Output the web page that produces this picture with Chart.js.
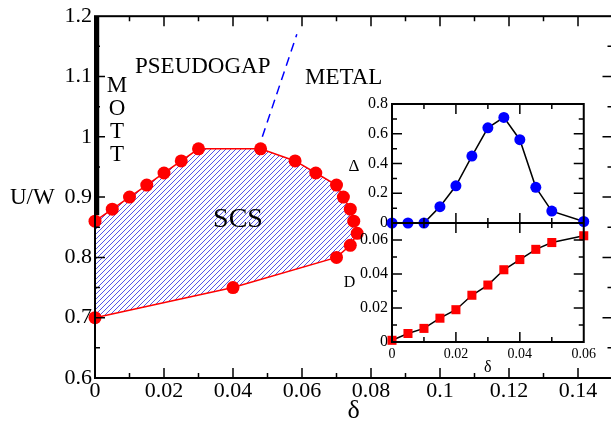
<!DOCTYPE html>
<html><head><meta charset="utf-8">
<script src="https://cdn.jsdelivr.net/npm/chart.js@4/dist/chart.umd.min.js"></script>
<style>
html,body{margin:0;padding:0;background:#fff;width:611px;height:424px;overflow:hidden;}
#wrap{position:relative;width:611px;height:424px;overflow:hidden;background:#fff;}
#mainBox{position:absolute;left:0;top:0;width:640px;height:424px;}
#insetBox{position:absolute;left:330px;top:90px;width:270px;height:300px;}
</style></head><body>
<div id="wrap">
  <div id="mainBox"><canvas id="main"></canvas></div>
  <div id="insetBox"><canvas id="inset"></canvas></div>
</div>
<script>
// ---------- DATA ----------
// SCS phase boundary (doping delta, U/W), traced around the region
const scsDelta = [0, 0.04, 0.07, 0.074, 0.076, 0.075, 0.074, 0.072, 0.07, 0.064, 0.058, 0.048, 0.03, 0.025, 0.02, 0.015, 0.01, 0.005, 0];
const scsU     = [0.70, 0.75, 0.80, 0.82, 0.84, 0.86, 0.88, 0.90, 0.92, 0.94, 0.96, 0.98, 0.98, 0.96, 0.94, 0.92, 0.90, 0.88, 0.86];
// Mott insulator segment at delta = 0
const mottDelta = [0.0005, 0.0005];
const mottU     = [0.87, 1.2];
// Pseudogap / metal crossover (dashed)
const pgDelta = [0.0485, 0.0585];
const pgU     = [1.0, 1.17];
// Inset
const insetDelta = [0, 0.005, 0.01, 0.015, 0.02, 0.025, 0.03, 0.035, 0.04, 0.045, 0.05, 0.06];
const gapValues  = [0, 0, 0, 0.11, 0.25, 0.45, 0.64, 0.71, 0.56, 0.24, 0.08, 0.01];
const dValues    = [0.001, 0.005, 0.008, 0.014, 0.019, 0.0275, 0.0335, 0.0425, 0.0485, 0.0545, 0.0585, 0.0625];
// Tick labels
const mainXTicks  = [0, 0.02, 0.04, 0.06, 0.08, 0.1, 0.12, 0.14];
const mainYTicks  = [0.6, 0.7, 0.8, 0.9, 1.0, 1.1, 1.2];
const insetXTicks = [0, 0.02, 0.04, 0.06];
const gapTicks    = [0, 0.2, 0.4, 0.6, 0.8];
const dTicks      = [0, 0.02, 0.04, 0.06];

// ---------- HELPERS ----------
const SERIF = "'Liberation Serif', 'Times New Roman', serif";
Chart.defaults.font.family = SERIF;
Chart.defaults.color = '#000';
const fmt = v => String(parseFloat(Number(v).toFixed(3)));
const pts = (xs, ys) => xs.map((x, i) => ({x: x, y: ys[i]}));
function range(min, max, step) {
  const out = []; const n = Math.round((max - min) / step);
  for (let i = 0; i <= n; i++) out.push({v: min + i * step, major: i % 2 === 0});
  return out;
}
function setTicks(arr) { return s => { s.ticks = arr.map(v => ({value: v})); }; }

function hatchPattern() {
  const t = document.createElement('canvas');
  const n = 5; t.width = n; t.height = n;
  const c = t.getContext('2d');
  c.strokeStyle = 'rgb(85,85,232)';
  c.lineWidth = 1;
  c.beginPath();
  c.moveTo(-1, n + 1); c.lineTo(n + 1, -1);
  c.moveTo(-1, 1); c.lineTo(1, -1);
  c.moveTo(n - 1, n + 1); c.lineTo(n + 1, n - 1);
  c.stroke();
  return c.createPattern(t, 'repeat');
}

function drawXTicks(ctx, scale, list, top, bottom, left, right) {
  list.forEach(t => {
    const px = scale.getPixelForValue(t.v);
    if (px < left + 0.5 || px > right - 0.5) return;
    const L = t.major ? 10 : 5;
    ctx.beginPath();
    ctx.moveTo(px, bottom); ctx.lineTo(px, bottom - L);
    ctx.moveTo(px, top); ctx.lineTo(px, top + L);
    ctx.stroke();
  });
}
function drawYTicks(ctx, scale, list, left, right, top, bottom) {
  list.forEach(t => {
    const py = scale.getPixelForValue(t.v);
    if (py < top + 0.5 || py > bottom - 0.5) return;
    const L = t.major ? 10 : 5;
    ctx.beginPath();
    ctx.moveTo(left, py); ctx.lineTo(left + L, py);
    ctx.moveTo(right, py); ctx.lineTo(right - L, py);
    ctx.stroke();
  });
}

// ---------- MAIN CHART ----------
const mainFrame = {
  id: 'mainFrame',
  afterDatasetsDraw(chart) {
    const {ctx, chartArea: a, scales} = chart;
    ctx.save();
    ctx.strokeStyle = '#000';
    ctx.lineWidth = 1.5;
    drawXTicks(ctx, scales.x, range(0, 0.15, 0.01), a.top, a.bottom, a.left, a.right);
    drawYTicks(ctx, scales.y, range(0.6, 1.2, 0.05), a.left, a.right, a.top, a.bottom);
    ctx.lineWidth = 2;
    ctx.strokeRect(a.left, a.top, a.right - a.left, a.bottom - a.top);
    // annotations
    ctx.fillStyle = '#000';
    ctx.textBaseline = 'alphabetic';
    ctx.textAlign = 'left';
    ctx.font = '23px ' + SERIF;
    ctx.fillText('PSEUDOGAP', 135, 73);
    ctx.fillText('METAL', 305, 84);
    ctx.fillText('U/W', 10, 204);
    ctx.textAlign = 'center';
    ['M', 'O', 'T', 'T'].forEach((ch, i) => ctx.fillText(ch, 117, [92, 115, 138, 161][i]));
    ctx.font = '28px ' + SERIF;
    ctx.fillText('SCS', 238, 227);
    ctx.font = '26px ' + SERIF;
    ctx.fillText('δ', (a.left + a.right) / 2, 418);
    ctx.restore();
  }
};

new Chart(document.getElementById('main'), {
  type: 'line',
  data: {
    datasets: [
      {
        data: pts(scsDelta, scsU),
        borderColor: '#ff0000', borderWidth: 1.5,
        backgroundColor: hatchPattern(), fill: 'shape',
        pointRadius: 6.5, pointHoverRadius: 6.5,
        pointBackgroundColor: '#ff0000', pointBorderColor: '#ff0000', pointBorderWidth: 0,
        tension: 0, clip: false
      },
      {
        data: pts(mottDelta, mottU),
        borderColor: '#000', borderWidth: 5, pointRadius: 0, fill: false, clip: false
      },
      {
        data: pts(pgDelta, pgU),
        borderColor: '#0000ff', borderWidth: 1.5, borderDash: [9, 6], pointRadius: 0, fill: false
      }
    ]
  },
  options: {
    responsive: true, maintainAspectRatio: false, animation: false, events: [],
    layout: {padding: {left: 0, right: 27.5, top: 16, bottom: 0}},
    plugins: {legend: {display: false}, tooltip: {enabled: false}},
    scales: {
      x: {
        type: 'linear', min: 0, max: 0.15,
        grid: {display: false, drawTicks: false}, border: {display: false},
        afterBuildTicks: setTicks(mainXTicks),
        afterFit: s => { s.height = 46; },
        ticks: {autoSkip: false, maxRotation: 0, padding: 0, font: {size: 22}, color: '#000', callback: v => fmt(v)}
      },
      y: {
        type: 'linear', min: 0.6, max: 1.2,
        grid: {display: false, drawTicks: false}, border: {display: false},
        afterBuildTicks: setTicks(mainYTicks),
        afterFit: s => { s.width = 95; },
        ticks: {autoSkip: false, padding: 3, font: {size: 22}, color: '#000', callback: v => fmt(v)}
      }
    }
  },
  plugins: [mainFrame]
});

// ---------- INSET ----------
const insetFrame = {
  id: 'insetFrame',
  afterDatasetsDraw(chart) {
    const {ctx, chartArea: a, scales} = chart;
    const up = scales.yUp, lo = scales.yLow;
    ctx.save();
    ctx.strokeStyle = '#000';
    ctx.lineWidth = 1.5;
    const xl = range(0, 0.06, 0.01);
    drawXTicks(ctx, scales.x, xl, up.top, up.bottom, a.left, a.right);
    drawXTicks(ctx, scales.x, xl, lo.top, lo.bottom, a.left, a.right);
    drawYTicks(ctx, up, range(0, 0.8, 0.1), a.left, a.right, up.top, up.bottom);
    drawYTicks(ctx, lo, range(0, 0.07, 0.01), a.left, a.right, lo.top, lo.bottom);
    ctx.lineWidth = 2;
    ctx.strokeRect(a.left, up.top, a.right - a.left, lo.bottom - up.top);
    ctx.beginPath(); ctx.moveTo(a.left, up.bottom); ctx.lineTo(a.right, up.bottom); ctx.stroke();
    ctx.fillStyle = '#000';
    ctx.textAlign = 'center';
    ctx.textBaseline = 'alphabetic';
    ctx.font = '17px ' + SERIF;
    ctx.fillText('Δ', 24, 81);
    ctx.font = '16px ' + SERIF;
    ctx.fillText('D', 19.5, 197);
    ctx.font = '16px ' + SERIF;
    ctx.fillText('δ', (a.left + a.right) / 2, 282);
    ctx.restore();
  }
};

new Chart(document.getElementById('inset'), {
  type: 'line',
  data: {
    datasets: [
      {
        data: pts(insetDelta, gapValues), yAxisID: 'yUp',
        borderColor: '#000', borderWidth: 1.5, fill: false, tension: 0,
        pointStyle: 'circle', pointRadius: 5.5, pointHoverRadius: 5.5,
        pointBackgroundColor: '#0000ff', pointBorderColor: '#0000ff', pointBorderWidth: 0, clip: false
      },
      {
        data: pts(insetDelta, dValues), yAxisID: 'yLow',
        borderColor: '#000', borderWidth: 1.5, fill: false, tension: 0,
        pointStyle: 'rect', pointRadius: 6.4, pointHoverRadius: 6.4,
        pointBackgroundColor: '#ff0000', pointBorderColor: '#ff0000', pointBorderWidth: 0, clip: false
      }
    ]
  },
  options: {
    responsive: true, maintainAspectRatio: false, animation: false, events: [],
    layout: {padding: {left: 0, right: 14, top: 14, bottom: 0}},
    plugins: {legend: {display: false}, tooltip: {enabled: false}},
    scales: {
      x: {
        type: 'linear', min: 0, max: 0.06,
        grid: {display: false, drawTicks: false}, border: {display: false},
        afterBuildTicks: setTicks(insetXTicks),
        afterFit: s => { s.height = 48; },
        ticks: {autoSkip: false, maxRotation: 0, padding: 4, font: {size: 14}, color: '#000', callback: v => fmt(v)}
      },
      yLow: {
        type: 'linear', position: 'left', stack: 'ins', stackWeight: 1, min: 0, max: 0.07,
        grid: {display: false, drawTicks: false}, border: {display: false},
        afterBuildTicks: setTicks(dTicks),
        afterFit: s => { s.width = 62; },
        ticks: {autoSkip: false, padding: 4, font: {size: 16}, color: '#000', callback: v => fmt(v)}
      },
      yUp: {
        type: 'linear', position: 'left', stack: 'ins', stackWeight: 1, min: 0, max: 0.8,
        grid: {display: false, drawTicks: false}, border: {display: false},
        afterBuildTicks: setTicks(gapTicks),
        afterFit: s => { s.width = 62; },
        ticks: {autoSkip: false, padding: 4, font: {size: 16}, color: '#000', callback: v => fmt(v)}
      }
    }
  },
  plugins: [insetFrame]
});
</script>
</body></html>
